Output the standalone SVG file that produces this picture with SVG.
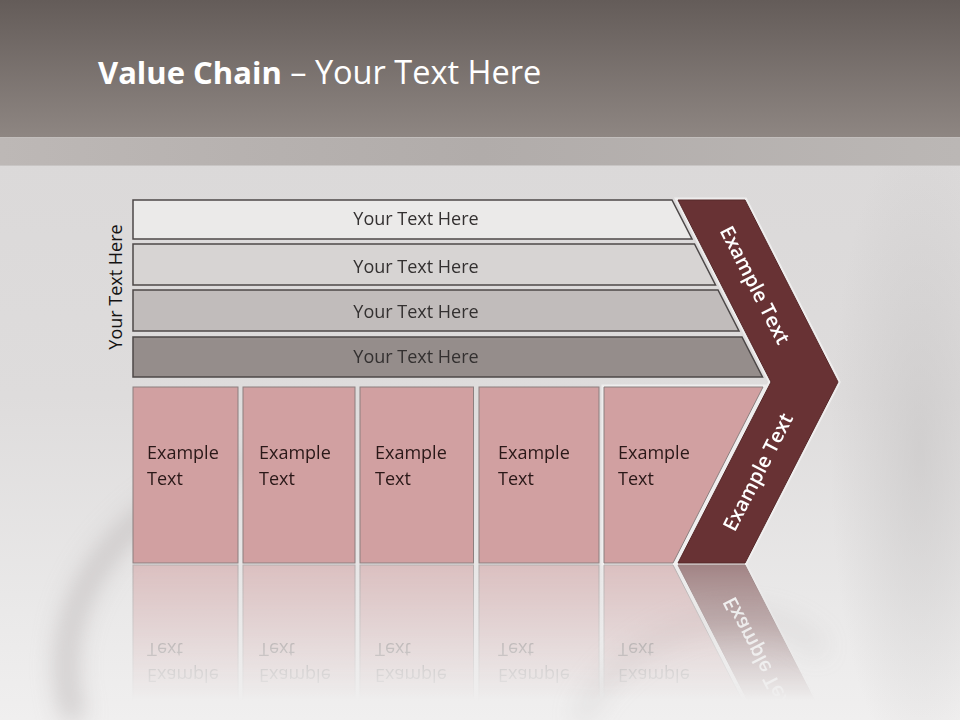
<svg xmlns="http://www.w3.org/2000/svg" xmlns:xlink="http://www.w3.org/1999/xlink" width="960" height="720" viewBox="0 0 960 720">
  <defs>
    <style>
      .t { font-family: "Open Sans", "Liberation Sans", sans-serif; }
      .bar { stroke: #4d4848; stroke-width: 1.5; }
      .bartxt { font-size: 18px; fill: #333030; text-anchor: middle; }
      .box { fill: #d1a0a1; stroke: #8b7f7f; stroke-width: 1; }
      .boxtxt { font-size: 18px; fill: #2a1818; }
      .chev { fill: #683234; stroke: #552829; stroke-width: 1; }
      .chevtxt { font-size: 20px; font-weight: 600; fill: #ffffff; text-anchor: middle; }
      .glow { fill: none; stroke: #f2f1f1; stroke-width: 5; stroke-opacity: 0.8; stroke-linejoin: miter; }
    </style>
    <linearGradient id="hdr" x1="0" y1="0" x2="0" y2="1">
      <stop offset="0" stop-color="#645c59"/>
      <stop offset="1" stop-color="#8e8682"/>
    </linearGradient>
    <linearGradient id="band" x1="0" y1="0" x2="1" y2="0">
      <stop offset="0" stop-color="#bdb8b6"/>
      <stop offset="0.5" stop-color="#b1acaa"/>
      <stop offset="1" stop-color="#bbb7b5"/>
    </linearGradient>
    <linearGradient id="main" x1="0" y1="0" x2="0" y2="1">
      <stop offset="0" stop-color="#d9d7d7"/>
      <stop offset="0.55" stop-color="#dedcdc"/>
      <stop offset="0.85" stop-color="#eae9e9"/>
      <stop offset="1" stop-color="#f0efef"/>
    </linearGradient>
    <radialGradient id="leftLight" cx="0" cy="0.5" r="0.5">
      <stop offset="0" stop-color="#f0efef" stop-opacity="0.8"/>
      <stop offset="1" stop-color="#f0efef" stop-opacity="0"/>
    </radialGradient>
    <radialGradient id="rightDark" cx="0.5" cy="0.5" r="0.5">
      <stop offset="0" stop-color="#c6c4c4" stop-opacity="0.6"/>
      <stop offset="1" stop-color="#c6c4c4" stop-opacity="0"/>
    </radialGradient>
    <linearGradient id="fadeGrad" gradientUnits="userSpaceOnUse" x1="0" y1="564" x2="0" y2="700">
      <stop offset="0" stop-color="#fff" stop-opacity="0.55"/>
      <stop offset="0.6" stop-color="#fff" stop-opacity="0.22"/>
      <stop offset="1" stop-color="#fff" stop-opacity="0"/>
    </linearGradient>
    <mask id="fade" maskUnits="userSpaceOnUse" x="0" y="560" width="960" height="160">
      <rect x="0" y="564" width="960" height="156" fill="url(#fadeGrad)"/>
    </mask>
    <filter id="blur" x="-30%" y="-30%" width="160%" height="160%">
      <feGaussianBlur stdDeviation="12"/>
    </filter>
  </defs>

  <!-- background -->
  <rect x="0" y="0" width="960" height="720" fill="url(#main)"/>
  <ellipse cx="0" cy="400" rx="140" ry="260" fill="url(#leftLight)"/>
  <ellipse cx="920" cy="450" rx="90" ry="320" fill="url(#rightDark)"/>
  <g filter="url(#blur)">
    <path d="M 75 720 C 45 630, 90 520, 240 460" fill="none" stroke="#c4c0c0" stroke-width="16"/>
    <path d="M 580 720 C 620 630, 760 580, 820 650" fill="none" stroke="#cbc8c8" stroke-width="10" opacity="0.6"/>
  </g>
  <rect x="0" y="0" width="960" height="137" fill="url(#hdr)"/>
  <rect x="0" y="137" width="960" height="29" fill="url(#band)"/>
  <rect x="0" y="137" width="960" height="1" fill="#c2bebc"/>
  <rect x="0" y="165" width="960" height="1" fill="#c8c5c4"/>

  <!-- title -->
  <text class="t" x="98" y="84" font-size="32.5" fill="#ffffff"><tspan font-weight="700" font-size="31">Value Chain</tspan> – Your Text Here</text>

  <!-- vertical label -->
  <text class="t" transform="translate(122,287) rotate(-90)" x="0" y="0" font-size="18" fill="#141212" text-anchor="middle">Your Text Here</text>

  <!-- glows -->
  <g id="glows">
    <polygon class="glow" points="678,200 745,200 838,382 745,563 678,563 771,382"/>
    <polygon class="glow" points="604,387 763,387 673,563 604,563"/>
  </g>

  <!-- bars -->
  <g id="bar1">
    <polygon class="bar" points="133,200 672,200 692,239 133,239" fill="#ebeae9"/>
    <text class="t bartxt" x="416" y="225">Your Text Here</text>
  </g>
  <g id="bar2">
    <polygon class="bar" points="133,244 694.5,244 715.5,285 133,285" fill="#d7d4d3"/>
    <text class="t bartxt" x="416" y="273">Your Text Here</text>
  </g>
  <g id="bar3">
    <polygon class="bar" points="133,290 718,290 739,331 133,331" fill="#c1bcbb"/>
    <text class="t bartxt" x="416" y="318">Your Text Here</text>
  </g>
  <g id="bar4">
    <polygon class="bar" points="133,337 742,337 762.5,377 133,377" fill="#958d8b"/>
    <text class="t bartxt" x="416" y="363">Your Text Here</text>
  </g>

  <!-- boxes -->
  <g id="box1">
    <rect class="box" x="133" y="387" width="105" height="176"/>
    <text class="t boxtxt" x="147" y="459">Example</text>
    <text class="t boxtxt" x="147" y="485">Text</text>
  </g>
  <g id="box2">
    <rect class="box" x="243" y="387" width="112" height="176"/>
    <text class="t boxtxt" x="259" y="459">Example</text>
    <text class="t boxtxt" x="259" y="485">Text</text>
  </g>
  <g id="box3">
    <rect class="box" x="360" y="387" width="113.5" height="176"/>
    <text class="t boxtxt" x="375" y="459">Example</text>
    <text class="t boxtxt" x="375" y="485">Text</text>
  </g>
  <g id="box4">
    <rect class="box" x="479" y="387" width="120" height="176"/>
    <text class="t boxtxt" x="498" y="459">Example</text>
    <text class="t boxtxt" x="498" y="485">Text</text>
  </g>
  <g id="box5">
    <polygon class="box" points="604,387 763,387 673,563 604,563"/>
    <text class="t boxtxt" x="618" y="459">Example</text>
    <text class="t boxtxt" x="618" y="485">Text</text>
  </g>

  <!-- chevron -->
  <g id="chevron">
    <polygon class="chev" points="678,200 745,200 838,382 745,563 678,563 771,382"/>
    <text class="t chevtxt" transform="translate(755,285) rotate(62.9)" x="0" y="7">Example Text</text>
    <text class="t chevtxt" transform="translate(758,472) rotate(-62.9)" x="0" y="7">Example Text</text>
  </g>

  <!-- connectors (none in this diagram) -->
  <g id="connectors"/>

  <!-- reflection -->
  <g id="reflection" mask="url(#fade)">
    <g transform="translate(0,1128) scale(1,-1)">
      <use xlink:href="#glows"/>
      <use xlink:href="#box1"/>
      <use xlink:href="#box2"/>
      <use xlink:href="#box3"/>
      <use xlink:href="#box4"/>
      <use xlink:href="#box5"/>
      <use xlink:href="#chevron"/>
    </g>
  </g>
</svg>
